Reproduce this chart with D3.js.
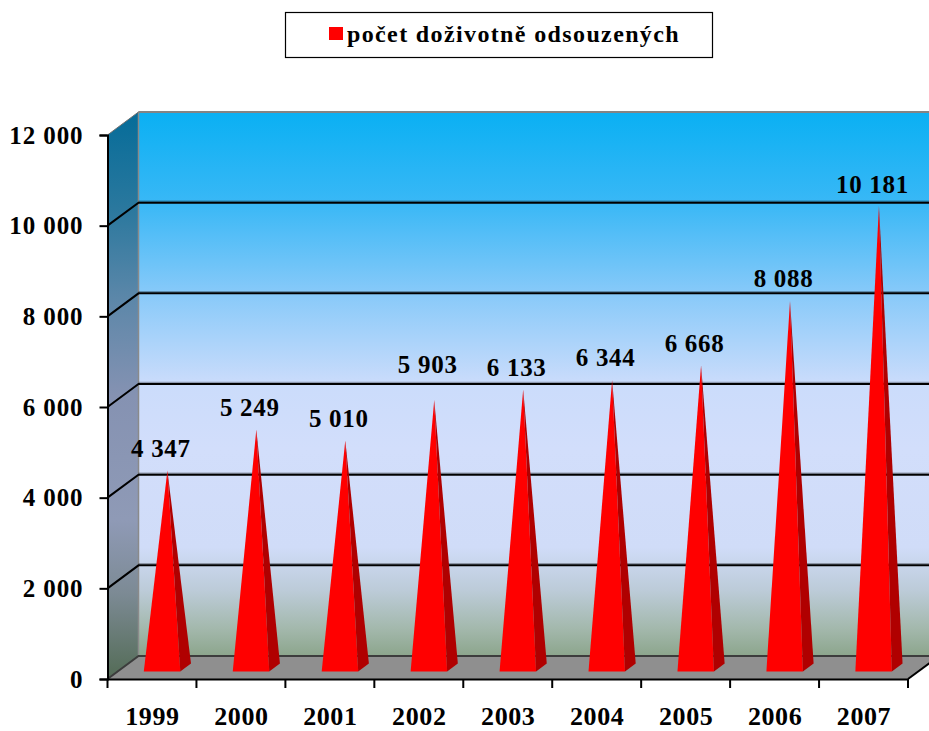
<!DOCTYPE html>
<html>
<head>
<meta charset="utf-8">
<script src="https://cdn.jsdelivr.net/npm/d3@7"></script>
<style>
  html, body { margin: 0; padding: 0; background: #fff; overflow: hidden; }
  text { font-family: "Liberation Serif", serif; font-weight: bold; fill: #000; }
</style>
</head>
<body>
<div id="chart"></div>
<script>
const years = ["1999", "2000", "2001", "2002", "2003", "2004", "2005", "2006", "2007"];
const counts = [4347, 5249, 5010, 5903, 6133, 6344, 6668, 8088, 10181];
const yTicks = [0, 2000, 4000, 6000, 8000, 10000, 12000];
const seriesName = "počet doživotně odsouzených";

const width = 929, height = 731;
const fmt = (v) => String(v).replace(/\B(?=(\d{3})+$)/g, " ");

const x = d3.scaleBand().domain(years).range([107.5, 908]);
const y = d3.scaleLinear().domain([0, 12000]).range([679, 135]);

// 3D box depth, as a screen offset from the front plane to the back wall
const depthX = 31, depthY = -23;
const project = (px, py, d) => [px + depthX * d, py + depthY * d];

const svg = d3.select("#chart").append("svg")
  .attr("width", width)
  .attr("height", height)
  .style("display", "block");

const defs = svg.append("defs");
function verticalGradient(id, stops) {
  const g = defs.append("linearGradient").attr("id", id)
    .attr("x1", 0).attr("y1", 0).attr("x2", 0).attr("y2", 1);
  stops.forEach(([o, c]) => g.append("stop").attr("offset", o).attr("stop-color", c));
}
verticalGradient("backWall", [
  [0, "#0ab0f3"], [0.17, "#3ab8f6"], [0.33, "#86c9f9"], [0.5, "#cbdcfb"],
  [0.62, "#d2defb"], [0.8, "#d0dcf8"], [0.88, "#bccbd8"], [0.95, "#a3b8ac"], [1, "#8ca58c"]
]);
verticalGradient("sideWall", [
  [0, "#056c99"], [0.17, "#2a789e"], [0.33, "#5c87a9"], [0.5, "#8592b2"],
  [0.72, "#8f9ab6"], [0.85, "#7c8a94"], [1, "#536b55"]
]);

const line = d3.line();
const [backX0, backY0] = project(x.range()[0], y(0), 1);
const [backX1] = project(x.range()[1], y(0), 1);
const [, backYTop] = project(0, y(12000), 1);

// back wall
svg.append("rect")
  .attr("x", backX0).attr("y", backYTop)
  .attr("width", backX1 - backX0).attr("height", backY0 - backYTop)
  .attr("fill", "url(#backWall)");

// left wall
svg.append("path")
  .attr("d", line([
    [x.range()[0], y(12000)], project(x.range()[0], y(12000), 1),
    project(x.range()[0], y(0), 1), [x.range()[0], y(0)]
  ]) + "Z")
  .attr("fill", "url(#sideWall)");

// floor
svg.append("path")
  .attr("d", line([
    [x.range()[0], y(0)], [x.range()[1], y(0)],
    project(x.range()[1], y(0), 1), project(x.range()[0], y(0), 1)
  ]) + "Z")
  .attr("fill", "#8f8f8f");

// wall edges
svg.append("line")
  .attr("x1", backX0).attr("x2", backX0).attr("y1", backYTop).attr("y2", backY0)
  .attr("stroke", "#8a8a8a").attr("stroke-width", 1.5);
svg.append("line")
  .attr("x1", backX0).attr("x2", backX1).attr("y1", backYTop).attr("y2", backYTop)
  .attr("stroke", "#9a9a9a").attr("stroke-width", 2);

// gridlines, running round the left wall and along the back
const grid = svg.append("g");
yTicks.forEach((t) => {
  const front = [x.range()[0], y(t)];
  const back = project(front[0], front[1], 1);
  const far = project(x.range()[1], y(t), 1);
  if (t > 0 && t < 12000) {
    // soft shade sitting on top of each back gridline
    grid.append("line")
      .attr("x1", back[0]).attr("x2", far[0]).attr("y1", back[1] - 1.5).attr("y2", far[1] - 1.5)
      .attr("stroke", "#000").attr("stroke-opacity", 0.3).attr("stroke-width", 1.5);
  }
  grid.append("path")
    .attr("d", line([front, back, far]))
    .attr("fill", "none")
    .attr("stroke", t === 12000 ? "#6f6f6f" : t === 0 ? "#3c3c3c" : "#000")
    .attr("stroke-width", t === 12000 ? 1 : 2);
});

// right edge of the floor
grid.append("path")
  .attr("d", line([[x.range()[1], y(0)], project(x.range()[1], y(0), 1)]))
  .attr("stroke", "#000").attr("stroke-width", 2);

// axes
const yAxis = svg.append("g")
  .attr("transform", `translate(${x.range()[0]},0)`)
  .call(d3.axisLeft(y).tickValues(yTicks).tickFormat(fmt).tickSize(8));
const xAxis = svg.append("g")
  .attr("transform", `translate(0,${y(0)})`)
  .call(d3.axisBottom(x).tickSize(0));
xAxis.append("g").selectAll("line")
  .data(years.concat(["end"]))
  .join("line")
  .attr("x1", (d, i) => x.range()[0] + i * x.step())
  .attr("x2", (d, i) => x.range()[0] + i * x.step())
  .attr("y1", 0).attr("y2", 9)
  .attr("stroke", "#000").attr("stroke-width", 2);
[yAxis, xAxis].forEach((a) => {
  a.selectAll(".domain").attr("stroke", "#000").attr("stroke-width", 2);
  a.selectAll(".tick line").attr("stroke", "#000").attr("stroke-width", 2);
  a.selectAll("text").style("font-family", '"Liberation Serif", serif').style("font-weight", "bold").style("fill", "#000");
});
yAxis.selectAll("text").attr("x", -24).style("font-size", "25px").style("letter-spacing", "0.9px");
xAxis.selectAll("text")
  .attr("x", 0.5).attr("y", 46).attr("dy", 0)
  .style("font-size", "26px")
  .style("letter-spacing", "0.6px");

// pyramids: front edge at depth dFront, back at dBack, apex over the base centre
const dFront = 0.325, dBack = 0.67;
const baseWidth = 36.5;
const pyramids = svg.append("g").selectAll("g")
  .data(years.map((year, i) => ({ year, count: counts[i] })))
  .join("g");

const cx = (d) => x(d.year) + x.bandwidth() / 2;
const apex = (d) => project(cx(d), y(d.count), (dFront + dBack) / 2);

pyramids.append("path")
  .attr("d", (d) => line([
    project(cx(d) - baseWidth / 2, y(0), dFront),
    project(cx(d) + baseWidth / 2, y(0), dFront),
    apex(d)
  ]) + "Z")
  .attr("fill", "#ff0000");
pyramids.append("path")
  .attr("d", (d) => line([
    project(cx(d) + baseWidth / 2, y(0), dFront),
    project(cx(d) + baseWidth / 2, y(0), dBack),
    apex(d)
  ]) + "Z")
  .attr("fill", "#b00000");

// value labels; 2002 was moved up by hand in the original
pyramids.append("text")
  .attr("x", (d) => apex(d)[0] - 6.5)
  .attr("y", (d) => apex(d)[1] - (d.year === "2002" ? 27 : 13.5))
  .attr("text-anchor", "middle")
  .attr("font-size", 25)
  .style("letter-spacing", "0.7px")
  .text((d) => fmt(d.count));

// legend
const legend = svg.append("g");
legend.append("rect")
  .attr("x", 285.5).attr("y", 12.5).attr("width", 427).attr("height", 45)
  .attr("fill", "#fff").attr("stroke", "#000").attr("stroke-width", 1.2);
legend.append("rect")
  .attr("x", 329).attr("y", 27).attr("width", 14).attr("height", 13)
  .attr("fill", "#ff0000");
legend.append("text")
  .attr("x", 347).attr("y", 42)
  .attr("font-size", 24)
  .style("letter-spacing", "1.37px")
  .text(seriesName);
</script>
</body>
</html>
